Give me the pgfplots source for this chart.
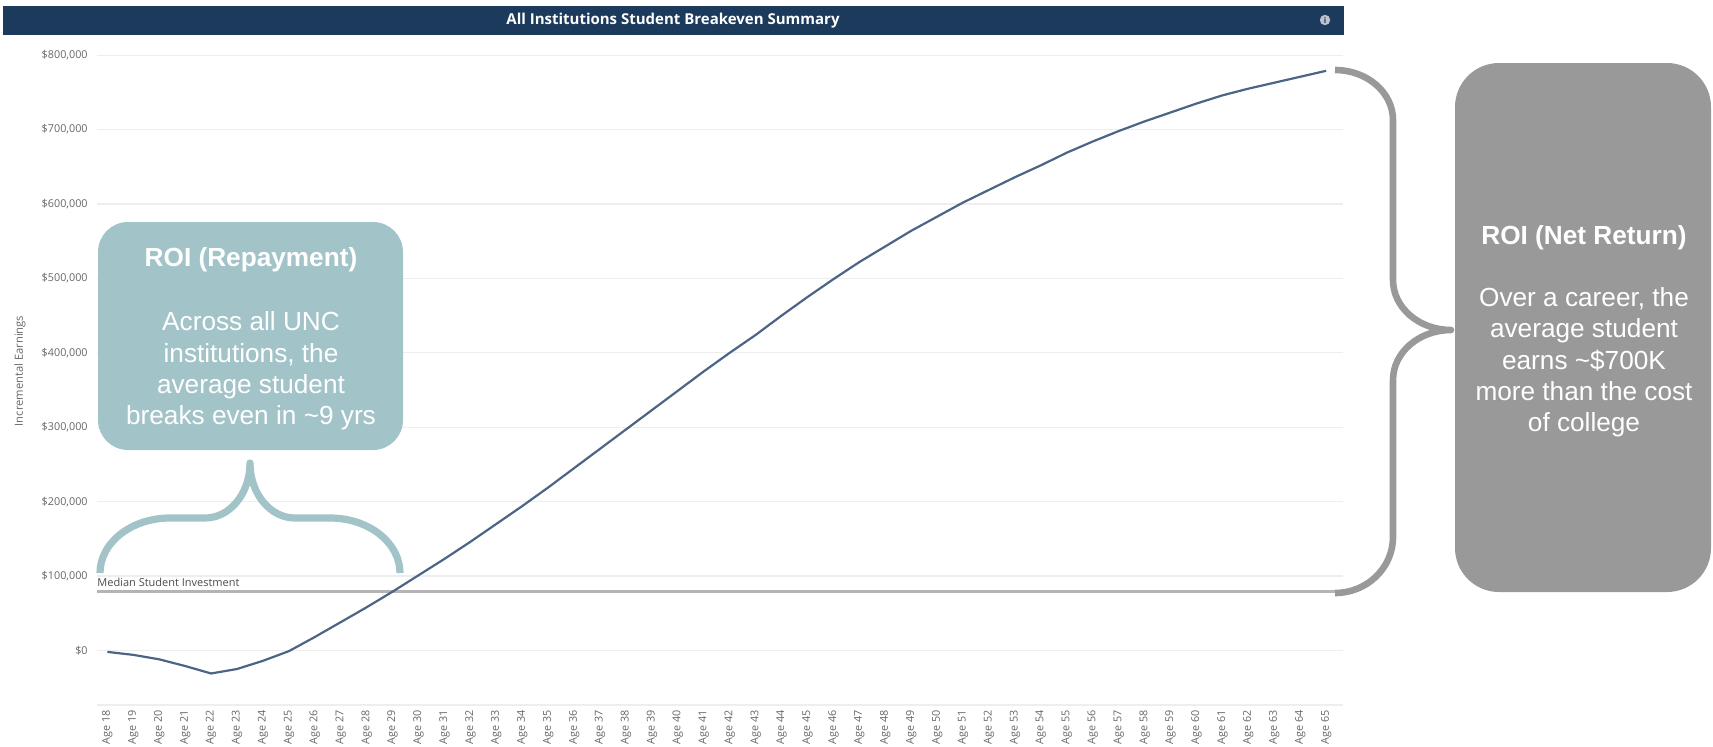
\documentclass[border=0pt]{standalone}
\usepackage{pgfplots}
\pgfplotsset{compat=1.18}
\usepackage{pgfplotstable}
\usepackage{fontspec}
\setmainfont{Open Sans}
\newfontfamily\arial{Liberation Sans}
\definecolor{navy}{HTML}{1B3A5C}
\definecolor{linec}{HTML}{4C6485}
\definecolor{teal1}{HTML}{A2C4C9}
\definecolor{graybox}{HTML}{999999}
\definecolor{gridc}{HTML}{EEEEEE}
\definecolor{medc}{HTML}{B4B4B4}
\definecolor{labc}{HTML}{666666}

\pgfplotstableread{
age val
18 -2000
19 -6000
20 -12000
21 -21000
22 -31000
23 -25000
24 -14000
25 -1000
26 18000
27 38000
28 58000
29 79000
30 101000
31 123000
32 146000
33 170000
34 194000
35 219000
36 245000
37 271000
38 297000
39 323000
40 349000
41 375000
42 400000
43 424000
44 450000
45 475000
46 499000
47 522000
48 543000
49 564000
50 583000
51 602000
52 619000
53 636000
54 652000
55 669000
56 684000
57 698000
58 711000
59 723000
60 735000
61 746000
62 755000
63 763000
64 771000
65 779000
}\datatable

\begin{document}
\begin{tikzpicture}
\path[use as bounding box] (0,0) rectangle (856.5pt,-373pt);
\begin{scope}[x=0.5pt,y=-0.5pt]
  \fill[navy] (3,6) rectangle (1344,35);
  \node[text=white,font=\fontsize{7.5pt}{9pt}\selectfont\bfseries] at (673,20.5) {All Institutions Student Breakeven Summary};
  \fill[white!70!navy] (1325,20) circle[radius=2.6pt];
  \node[text=navy,font=\fontsize{4pt}{4pt}\selectfont\bfseries,inner sep=0pt] at (1325,20) {i};
  \node[rotate=90,text=labc,font=\fontsize{5.6pt}{7pt}\selectfont] at (20,371) {Incremental Earnings};
\end{scope}
\begin{axis}[
  at={(48.5pt,-352.5pt)}, anchor=south west,
  scale only axis, width=623pt, height=332.35pt,
  xmin=17.6, xmax=65.65, ymin=-73400, ymax=820000,
  scaled y ticks=false, scaled x ticks=false,
  axis x line*=bottom, axis y line*=left,
  y axis line style={draw=none},
  x axis line style={gridc, line width=0.6pt},
  major tick length=0pt,
  ytick={0,100000,...,800000},
  yticklabels={\$0,{\$100,000},{\$200,000},{\$300,000},{\$400,000},{\$500,000},{\$600,000},{\$700,000},{\$800,000}},
  xtick={18,...,65},
  xticklabel={Age \pgfmathparse{int(round(\tick))}\pgfmathresult},
  ymajorgrids, grid style={gridc, line width=0.6pt},
  yticklabel style={font=\fontsize{5.4pt}{6pt}\selectfont, text=labc, anchor=east, inner sep=0pt},
  yticklabel shift=4.5pt,
  xticklabel style={font=\fontsize{5.4pt}{6pt}\selectfont, text=labc, rotate=90, anchor=east, inner sep=0pt},
  xticklabel shift=2.5pt,
  clip=false,
]
  \addplot[medc, line width=1.3pt, forget plot] coordinates {(17.6,79000) (65.65,79000)};
  \addplot[linec, line width=1.1pt, mark=none] table[x=age,y=val]{\datatable};
\end{axis}
\begin{scope}[x=0.5pt,y=-0.5pt]
  \node[anchor=base west,inner sep=0pt,text=black!70,font=\fontsize{5.5pt}{6pt}\selectfont] at (97,586) {Median Student Investment};
  % teal callout
  \fill[teal1, rounded corners=15pt] (98,222) rectangle (403,450);
  \begin{scope}[text=white, font=\arial\fontsize{13.1pt}{15.7pt}\selectfont]
    \node[anchor=base,inner sep=0pt,font=\arial\fontsize{13.1pt}{15.7pt}\selectfont\bfseries] at (251,266.5) {ROI (Repayment)};
    \node[anchor=base,inner sep=0pt] at (251,330.7) {Across all UNC};
    \node[anchor=base,inner sep=0pt] at (251,362) {institutions, the};
    \node[anchor=base,inner sep=0pt] at (251,393.3) {average student};
    \node[anchor=base,inner sep=0pt] at (251,424.5) {breaks even in \textasciitilde 9 yrs};
  \end{scope}
  \draw[teal1, line width=3.6pt, line join=round]
    (100,573) .. controls (100,542.6) and (131.3,518) .. (170,518)
    -- (205,518) .. controls (229.9,518) and (250,493.4) .. (250,463)
    .. controls (250,493.4) and (270.1,518) .. (295,518)
    -- (330,518) .. controls (368.7,518) and (400,542.6) .. (400,573);
  % gray brace
  \draw[graybox, line width=3.3pt, line join=round]
    (1335,70) .. controls (1367,70) and (1393,92.4) .. (1393,120)
    -- (1393,280) .. controls (1393,307.6) and (1419,330) .. (1451,330)
    .. controls (1419,330) and (1393,352.4) .. (1393,380)
    -- (1393,537) .. controls (1393,567.9) and (1367,593) .. (1335,593);
  % gray callout
  \fill[graybox, rounded corners=22pt] (1455,63) rectangle (1711,592);
  \begin{scope}[text=white, font=\arial\fontsize{13.1pt}{15.7pt}\selectfont]
    \node[anchor=base,inner sep=0pt,font=\arial\fontsize{13.1pt}{15.7pt}\selectfont\bfseries] at (1584,244) {ROI (Net Return)};
    \node[anchor=base,inner sep=0pt] at (1584,306.6) {Over a career, the};
    \node[anchor=base,inner sep=0pt] at (1584,337.9) {average student};
    \node[anchor=base,inner sep=0pt] at (1584,369.2) {earns \textasciitilde\$700K};
    \node[anchor=base,inner sep=0pt] at (1584,400.5) {more than the cost};
    \node[anchor=base,inner sep=0pt] at (1584,431.8) {of college};
  \end{scope}
\end{scope}
\end{tikzpicture}
\end{document}
